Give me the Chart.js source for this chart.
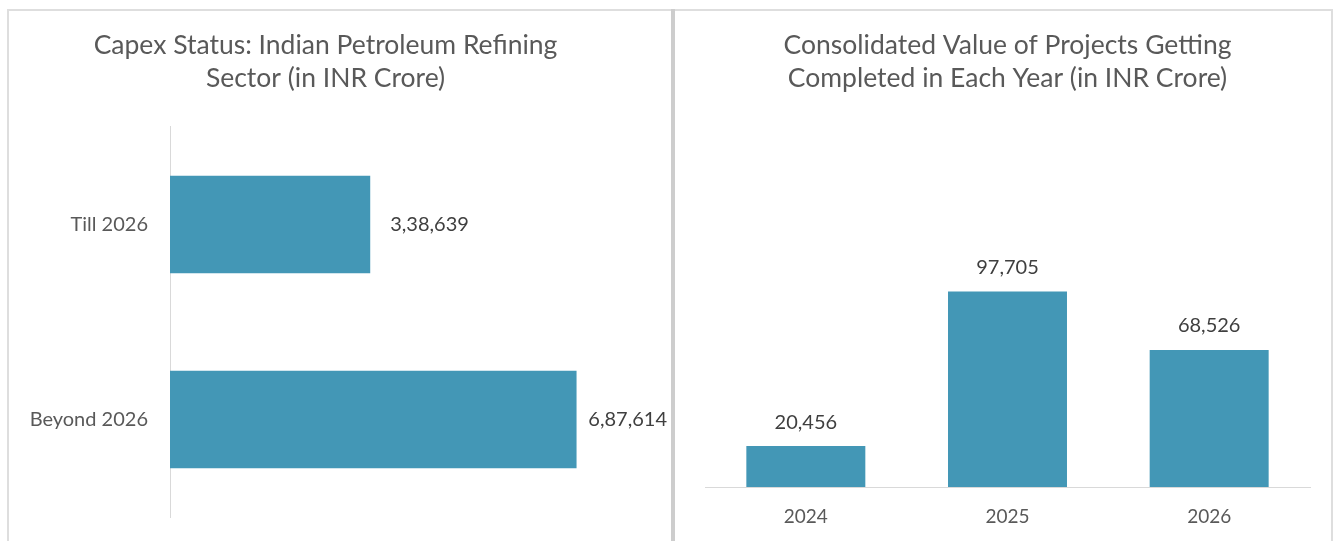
<!DOCTYPE html>
<html>
<head>
<meta charset="utf-8">
<script src="https://cdn.jsdelivr.net/npm/chart.js@4.4.1/dist/chart.umd.min.js"></script>
<style>
  html, body { margin: 0; padding: 0; background: #ffffff; }
  body { width: 1343px; height: 541px; position: relative; overflow: hidden; }
  .frame { position: absolute; left: 7px; top: 9px; width: 1326px; height: 560px;
           border: 2px solid #dedede; box-sizing: border-box; }
  .divider { position: absolute; left: 671px; top: 9px; width: 4px; height: 540px; background: #cdcdcd; }
  canvas { position: absolute; }
</style>
</head>
<body>
<div class="frame"></div>
<div class="divider"></div>
<canvas id="left" width="663" height="531" style="left:8px;top:10px;"></canvas>
<canvas id="right" width="658" height="531" style="left:676px;top:10px;"></canvas>
<script>
// ---- data ----
const capexCategories = ['Till 2026', 'Beyond 2026'];
const capexValues = [338639, 687614];
const yearCategories = ['2024', '2025', '2026'];
const yearValues = [20456, 97705, 68526];
const leftTitle = ['Capex Status: Indian Petroleum Refining', 'Sector (in INR Crore)'];
const rightTitle = ['Consolidated Value of Projects Getting', 'Completed in Each Year (in INR Crore)'];

const BAR = '#4397B6';
const TEXT = '#595959';
const VALTEXT = '#3f3f3f';
const FONT = 'Lato, "Open Sans", sans-serif';

function fmtIndian(n) {
  const s = String(Math.round(n));
  if (s.length <= 3) return s;
  const last3 = s.slice(-3);
  let rest = s.slice(0, -3);
  const parts = [];
  while (rest.length > 2) { parts.unshift(rest.slice(-2)); rest = rest.slice(0, -2); }
  if (rest.length) parts.unshift(rest);
  return parts.join(',') + ',' + last3;
}

const hValueLabels = {
  id: 'hValueLabels',
  afterDatasetsDraw(chart) {
    const ctx = chart.ctx;
    const meta = chart.getDatasetMeta(0);
    ctx.save();
    ctx.font = '20px ' + FONT;
    ctx.fillStyle = VALTEXT;
    ctx.textBaseline = 'middle';
    ctx.textAlign = 'left';
    meta.data.forEach((el, i) => {
      const txt = fmtIndian(chart.data.datasets[0].data[i]);
      const w = ctx.measureText(txt).width;
      let x = el.x + 20;
      const maxX = chart.width - 4 - w;
      if (x > maxX) x = Math.max(el.x + 5, maxX);
      ctx.fillText(txt, x, el.y);
    });
    ctx.restore();
  }
};

const vValueLabels = {
  id: 'vValueLabels',
  afterDatasetsDraw(chart) {
    const ctx = chart.ctx;
    const meta = chart.getDatasetMeta(0);
    ctx.save();
    ctx.font = '20px ' + FONT;
    ctx.fillStyle = VALTEXT;
    ctx.textBaseline = 'middle';
    ctx.textAlign = 'center';
    meta.data.forEach((el, i) => {
      const txt = fmtIndian(chart.data.datasets[0].data[i]);
      ctx.fillText(txt, el.x, el.y - 24);
    });
    ctx.restore();
  }
};

new Chart(document.getElementById('left'), {
  type: 'bar',
  data: {
    labels: capexCategories,
    datasets: [{ data: capexValues, backgroundColor: BAR, borderWidth: 0,
                 barPercentage: 0.5, categoryPercentage: 1.0 }]
  },
  options: {
    indexAxis: 'y',
    responsive: false,
    animation: false,
    layout: { padding: { top: 19, left: 0, right: 28, bottom: 24 } },
    plugins: {
      legend: { display: false },
      tooltip: { enabled: false },
      title: { display: true, text: leftTitle, color: TEXT,
               font: { family: FONT, size: 26.5, weight: 'normal', lineHeight: 1.245 },
               padding: { top: 0, bottom: 32 } }
    },
    scales: {
      x: { display: false, min: 0, max: 800000 },
      y: {
        grid: { display: false, drawTicks: false },
        border: { display: true, color: '#d9d9d9', width: 1 },
        ticks: { color: TEXT, padding: 22, font: { family: FONT, size: 20 } },
        afterFit(scale) { scale.width = 162; scale.paddingTop = 0; scale.paddingBottom = 0; }
      }
    }
  },
  plugins: [hValueLabels]
});

new Chart(document.getElementById('right'), {
  type: 'bar',
  data: {
    labels: yearCategories,
    datasets: [{ data: yearValues, backgroundColor: BAR, borderWidth: 0,
                 barPercentage: 0.59, categoryPercentage: 1.0 }]
  },
  options: {
    responsive: false,
    animation: false,
    layout: { padding: { top: 19, left: 29, right: 24, bottom: 0 } },
    plugins: {
      legend: { display: false },
      tooltip: { enabled: false },
      title: { display: true, text: rightTitle, color: TEXT,
               font: { family: FONT, size: 26.5, weight: 'normal', lineHeight: 1.245 },
               padding: { top: 0, bottom: 152 } }
    },
    scales: {
      y: { display: false, min: 0, max: 120000 },
      x: {
        grid: { display: false, drawTicks: false },
        border: { display: true, color: '#d9d9d9', width: 1 },
        ticks: { color: TEXT, padding: 18, font: { family: FONT, size: 19 } },
        afterFit(scale) { scale.height = 54; }
      }
    }
  },
  plugins: [vValueLabels]
});
</script>
</body>
</html>
